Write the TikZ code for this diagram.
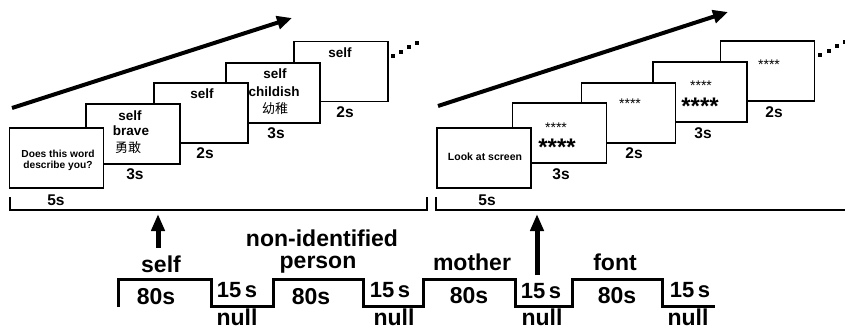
\documentclass[tikz,border=0pt]{standalone}
\usepackage{fontspec}
\setmainfont{Liberation Sans}
\newfontfamily\cjk{Noto Sans CJK SC}
\usetikzlibrary{arrows.meta}
\tikzset{
  scr/.style={draw,line width=1.4pt,fill=white,minimum width=94pt,minimum height=60pt,inner sep=0pt},
  wtxt/.style={font=\bfseries\fontsize{13.5}{15}\selectfont,inner sep=0pt,anchor=base},
  stxt/.style={font=\bfseries\fontsize{10.2}{12}\selectfont,inner sep=0pt,anchor=base},
  ctxt/.style={font=\cjk\fontsize{13}{15}\selectfont,inner sep=0pt},
  dur/.style={font=\bfseries\fontsize{15.5}{17}\selectfont,inner sep=0pt,anchor=base},
  smstar/.style={font=\fontsize{14}{16}\selectfont,inner sep=0pt,anchor=base},
  bigstar/.style={font=\bfseries\fontsize{24}{26}\selectfont,inner sep=0pt,anchor=base},
  blab/.style={font=\bfseries\fontsize{23}{25}\selectfont,inner sep=0pt,anchor=base},
  nlab/.style={font=\bfseries\fontsize{22}{24}\selectfont,inner sep=0pt,anchor=base},
  bigarrow/.style={line width=4pt,-{Triangle[length=15pt,width=13pt]}},
  uparrow/.style={line width=5pt,-{Triangle[length=17pt,width=13pt]}},
  brack/.style={line width=1.5pt},
  tline/.style={line width=3pt},
  dotsq/.style={fill=black}
}
\begin{document}
\begin{tikzpicture}[x=1pt,y=-1pt]
\useasboundingbox (0,0) rectangle (845,329);

% ---------- left panel ----------
\coordinate (la0) at (12,108);
\coordinate (la1) at (292,18);
\draw[bigarrow] (la0) -- (la1);

\node[scr] (L5) at (341,71.5) {};
\node[scr] (L4) at (273,93) {};
\node[scr] (L3) at (201,113) {};
\node[scr] (L2) at (133,134) {};
\node[scr] (L1) at (56.5,158) {};

\node[stxt] (l1a) at (58,157) {Does this word};
\node[stxt] (l1b) at (58,168) {describe you?};
\node[wtxt] (l2a) at (130,120) {self};
\node[wtxt] (l2b) at (131,135) {brave};
\node[ctxt] (l2c) at (128,148) {勇敢};
\node[wtxt] (l3a) at (202,98) {self};
\node[wtxt] (l4a) at (275,78) {self};
\node[wtxt] (l4b) at (274,96) {childish};
\node[ctxt] (l4c) at (275,109) {幼稚};
\node[wtxt] (l5a) at (340,57) {self};

\node[dur] (ld1) at (56,205) {5s};
\node[dur] (ld2) at (135,179) {3s};
\node[dur] (ld3) at (205,158) {2s};
\node[dur] (ld4) at (276,138) {3s};
\node[dur] (ld5) at (345,117) {2s};

\foreach \x/\y in {393/56,401/52,409/47,417/43}
  \fill[dotsq] (\x-2,\y-2) rectangle +(4,4);

\draw[brack] (10,197) -- (10,210) -- (427,210) -- (427,197);

% ---------- right panel ----------
\coordinate (ra0) at (438,106);
\coordinate (ra1) at (728,12);
\draw[bigarrow] (ra0) -- (ra1);

\node[scr] (R5) at (767.5,71) {};
\node[scr] (R4) at (700,92) {};
\node[scr] (R3) at (628.5,113) {};
\node[scr] (R2) at (559.5,133) {};
\node[scr] (R1) at (484,158) {};

\node[stxt,font=\bfseries\fontsize{10.5}{12}\selectfont] (r1a) at (485,160) {Look at screen};
\node[smstar] (r2a) at (556,132.5) {****};
\node[bigstar] (r2b) at (557,155) {****};
\node[smstar] (r3a) at (630,108.5) {****};
\node[smstar] (r4a) at (701,90.5) {****};
\node[bigstar] (r4b) at (700,114) {****};
\node[smstar] (r5a) at (769,70) {****};

\node[dur] (rd1) at (487,205) {5s};
\node[dur] (rd2) at (561,179) {3s};
\node[dur] (rd3) at (634,158) {2s};
\node[dur] (rd4) at (703,138) {3s};
\node[dur] (rd5) at (774,117) {2s};

\foreach \x/\y in {820/55,829/51,837/46,845/42}
  \fill[dotsq] (\x-2,\y-2) rectangle +(4,4);

\draw[brack] (436,197) -- (436,210) -- (845,210);

% ---------- block timeline ----------
\draw[tline] (118,307) -- (118,279) -- (211,279) -- (211,306) -- (273,306) -- (273,279)
  -- (363,279) -- (363,306) -- (423,306) -- (423,279) -- (515,279) -- (515,306)
  -- (572,306) -- (572,279) -- (662,279) -- (662,306) -- (715,306);

\coordinate (ua0) at (158,248);
\coordinate (ua1) at (158,214);
\draw[uparrow] (ua0) -- (ua1);
\coordinate (ub0) at (537,275);
\coordinate (ub1) at (537,214);
\draw[uparrow] (ub0) -- (ub1);

\node[blab] (b1) at (161,272) {self};
\node[blab] (b2) at (156,304) {80s};
\node[nlab] (b3) at (237,297) {15\,s};
\node[blab] (b4) at (237,325) {null};

\node[blab] (b5) at (322,246) {non-identified};
\node[blab] (b6) at (318,268) {person};
\node[blab] (b7) at (311,304) {80s};
\node[nlab] (b8) at (390,297) {15\,s};
\node[blab] (b9) at (394,325) {null};

\node[blab] (b10) at (472,270) {mother};
\node[blab] (b11) at (469,303) {80s};
\node[nlab] (b12) at (541,298) {15\,s};
\node[blab] (b13) at (542,325) {null};

\node[blab] (b14) at (615,270) {font};
\node[blab] (b15) at (617,303) {80s};
\node[nlab] (b16) at (690,297) {15\,s};
\node[blab] (b17) at (688,325) {null};
\end{tikzpicture}
\end{document}
